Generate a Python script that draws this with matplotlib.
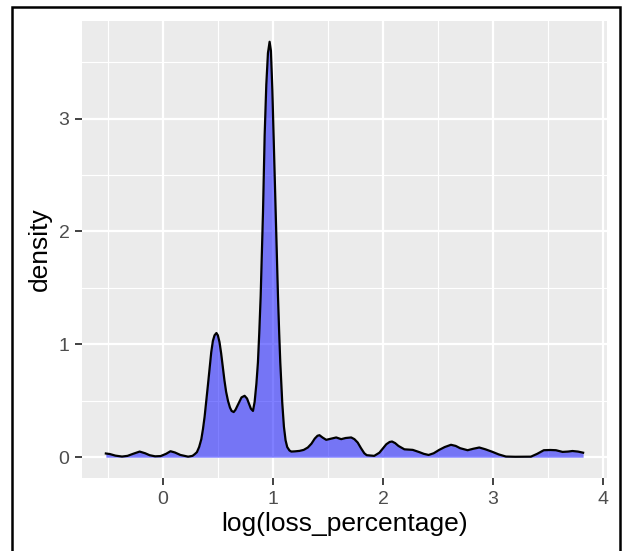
import numpy as np
import matplotlib
matplotlib.use("Agg")
import matplotlib.pyplot as plt
from matplotlib.patches import Rectangle

plt.rcParams['font.family'] = ['Liberation Sans', 'DejaVu Sans']

# density estimate of log(loss_percentage), read as (x, density) pairs
log_loss = [-0.517, -0.48, -0.43, -0.37, -0.32, -0.27, -0.21, -0.16, -0.12, -0.07,
            -0.02, 0.03, 0.07, 0.11, 0.16, 0.23, 0.27, 0.29, 0.31, 0.33,
            0.35, 0.365, 0.38, 0.395, 0.41, 0.426, 0.44, 0.455, 0.47, 0.487,
            0.50, 0.515, 0.53, 0.547, 0.56, 0.575, 0.592, 0.61, 0.625, 0.644,
            0.66, 0.69, 0.715, 0.743, 0.765, 0.785, 0.80, 0.819, 0.834, 0.85,
            0.864, 0.876, 0.889, 0.90, 0.91, 0.925, 0.94, 0.955, 0.97, 0.982,
            0.995, 1.006, 1.025, 1.046, 1.057, 1.067, 1.076, 1.085, 1.10, 1.115,
            1.13, 1.15, 1.167, 1.20, 1.242, 1.28, 1.317, 1.35, 1.38, 1.405,
            1.423, 1.45, 1.484, 1.53, 1.575, 1.62, 1.66, 1.711, 1.74, 1.77,
            1.80, 1.83, 1.852, 1.92, 1.967, 2.00, 2.03, 2.06, 2.082, 2.11,
            2.14, 2.194, 2.27, 2.33, 2.37, 2.414, 2.46, 2.51, 2.56, 2.617,
            2.66, 2.70, 2.768, 2.82, 2.874, 2.93, 2.995, 3.05, 3.116, 3.20,
            3.343, 3.40, 3.46, 3.52, 3.57, 3.63, 3.68, 3.72, 3.77, 3.817]
density = [0.033, 0.028, 0.014, 0.006, 0.012, 0.030, 0.050, 0.035, 0.018, 0.008,
           0.010, 0.030, 0.053, 0.042, 0.020, 0.005, 0.012, 0.027, 0.045, 0.09,
           0.16, 0.25, 0.36, 0.50, 0.64, 0.80, 0.93, 1.03, 1.08, 1.10,
           1.08, 1.02, 0.92, 0.78, 0.68, 0.58, 0.50, 0.44, 0.41, 0.40,
           0.42, 0.48, 0.53, 0.544, 0.52, 0.47, 0.43, 0.41, 0.49, 0.65,
           0.84, 1.10, 1.43, 1.80, 2.17, 2.85, 3.30, 3.58, 3.68, 3.60,
           3.25, 2.85, 2.15, 1.43, 1.10, 0.84, 0.65, 0.48, 0.27, 0.15,
           0.09, 0.06, 0.05, 0.052, 0.056, 0.065, 0.086, 0.12, 0.165, 0.19,
           0.195, 0.175, 0.154, 0.165, 0.175, 0.16, 0.17, 0.175, 0.16, 0.13,
           0.08, 0.035, 0.018, 0.012, 0.04, 0.08, 0.115, 0.135, 0.139, 0.125,
           0.10, 0.07, 0.065, 0.045, 0.03, 0.02, 0.035, 0.065, 0.09, 0.11,
           0.10, 0.08, 0.062, 0.075, 0.086, 0.07, 0.047, 0.025, 0.006, 0.004,
           0.005, 0.03, 0.062, 0.064, 0.062, 0.047, 0.05, 0.055, 0.05, 0.04]

x_ticks = [0, 1, 2, 3, 4]
y_ticks = [0, 1, 2, 3]

x = np.array(log_loss)
y = np.array(density)

fig = plt.figure(figsize=(6.23, 5.51), dpi=100)
ax = fig.add_axes([0.1316, 0.1325, 0.8427, 0.8294])

# ggplot-like grey panel
ax.set_facecolor('#EBEBEB')
for s in ax.spines.values():
    s.set_visible(False)

ax.fill_between(x, 0, y, color='blue', alpha=0.5, lw=0, zorder=2)
ax.plot(x, y, color='black', lw=1.6, zorder=3, solid_joinstyle='round')

xr = x.max() - x.min()
ax.set_xlim(x.min() - 0.05 * xr, x.max() + 0.05 * xr)
ax.set_ylim(-0.05 * y.max(), 1.05 * y.max())

ax.set_xticks(x_ticks)
ax.set_yticks(y_ticks)
ax.set_xticks([-0.5, 0.5, 1.5, 2.5, 3.5], minor=True)
ax.set_yticks([0.5, 1.5, 2.5, 3.5], minor=True)
ax.grid(True, which='major', color='white', lw=1.6, zorder=0)
ax.grid(True, which='minor', color='white', lw=0.8, zorder=0)
ax.set_axisbelow(True)

ax.tick_params(which='major', length=5, width=1.3, color='#333333',
               labelsize=14, labelcolor='#4D4D4D')
ax.tick_params(axis='x', pad=4.5)
ax.tick_params(axis='y', pad=4)
ax.tick_params(which='minor', length=0)

ax.set_xlabel('log(loss_percentage)', fontsize=19, labelpad=3)
ax.set_ylabel('density', fontsize=19, labelpad=5)

# black frame around the figure
fig.add_artist(Rectangle((12 / 623, -0.1), 608 / 623, 1.1 - 7 / 551,
                         transform=fig.transFigure, fill=False,
                         ec='black', lw=1.8))

fig.savefig('out.png', dpi=100)
